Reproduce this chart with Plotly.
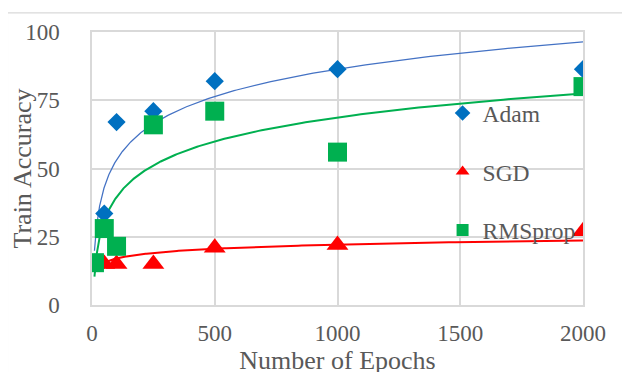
import numpy as np
import plotly.graph_objects as go

epochs = [10, 50, 100, 250, 500, 1000, 2000]
adam = [15.5, 33.5, 67, 71, 82, 86.4, 86.4]
sgd = [15, 15, 15, 15, 21, 22, 27]
rmsprop = [15.5, 28, 21.5, 66, 71, 56, 80]

x_ticks = [0, 500, 1000, 1500, 2000]
y_ticks = [0, 25, 50, 75, 100]

FONT = "'Liberation Serif', 'Times New Roman', serif"
TXT = "#595959"
GRID = "#D9D9D9"

series = [
    ("Adam", adam, "#0070C0", "#4472C4", 1.25, "diamond", 14),
    ("SGD", sgd, "#FF0000", "#FF0000", 2, "triangle-up", 19),
    ("RMSprop", rmsprop, "#00B050", "#00B050", 2, "square", 19),
]

fig = go.Figure()

# logarithmic trendlines (least squares on ln x), drawn below markers
xs = np.array(epochs, dtype=float)
xfit = np.geomspace(xs.min(), xs.max(), 300)
for name, ys, mcol, lcol, lw, sym, sz in series:
    a, b = np.polyfit(np.log(xs), np.array(ys, dtype=float), 1)
    fig.add_trace(go.Scatter(x=xfit, y=a * np.log(xfit) + b, mode="lines",
                             line=dict(color=lcol, width=lw),
                             showlegend=False, hoverinfo="skip"))

for name, ys, mcol, lcol, lw, sym, sz in series:
    fig.add_trace(go.Scatter(x=epochs, y=ys, mode="markers", name=name,
                             legendgroup=name,
                             marker=dict(symbol=sym, size=sz, color=mcol,
                                         line=dict(width=0))))

# page body has an 8px margin, so figure coords = window coords - 8
PL, PR, PT, PB = 84, 574.7, 23.7, 297
W, H = 630, 372

fig.update_layout(
    width=W, height=H,
    margin=dict(l=PL, r=W - PR, t=PT, b=H - PB, autoexpand=False),
    paper_bgcolor="white", plot_bgcolor="white",
    font=dict(family=FONT, size=23, color=TXT),
    showlegend=True,
    legend=dict(x=0.714, y=0.783, xanchor="left", yanchor="top",
                bgcolor="rgba(0,0,0,0)", borderwidth=0,
                traceorder="grouped", tracegroupgap=25,
                itemsizing="constant",
                font=dict(family=FONT, size=23.5, color=TXT)),
    xaxis=dict(range=[0, 2000], tickvals=x_ticks, ticktext=[str(v) for v in x_ticks],
               automargin=True,
               showgrid=True, gridcolor=GRID, gridwidth=1.5,
               showline=True, mirror=True, linecolor=GRID, linewidth=1.5,
               zeroline=False, ticks="", ticklabelstandoff=7,
               tickfont=dict(family=FONT, size=23, color=TXT),
               title=dict(text="Number of Epochs", standoff=0,
                          font=dict(family=FONT, size=26, color=TXT))),
    yaxis=dict(range=[0, 100], tickvals=y_ticks, ticktext=[str(v) for v in y_ticks],
               automargin=False,
               showgrid=True, gridcolor=GRID, gridwidth=1.5,
               showline=True, mirror=True, linecolor=GRID, linewidth=1.5,
               zeroline=False, ticks="", ticklabelstandoff=26,
               tickfont=dict(family=FONT, size=23, color=TXT),
               title=dict(text="Train Accuracy",
                          font=dict(family=FONT, size=26, color=TXT))),
    shapes=[dict(type="rect", xref="paper", yref="paper",
                 x0=(-0.5 - PL) / (PR - PL), x1=1.3, y0=-0.4,
                 y1=(PB - 4.5) / (PB - PT),
                 line=dict(color=GRID, width=1.2), fillcolor="rgba(0,0,0,0)",
                 layer="below")],
)

fig.write_html("out.html")
